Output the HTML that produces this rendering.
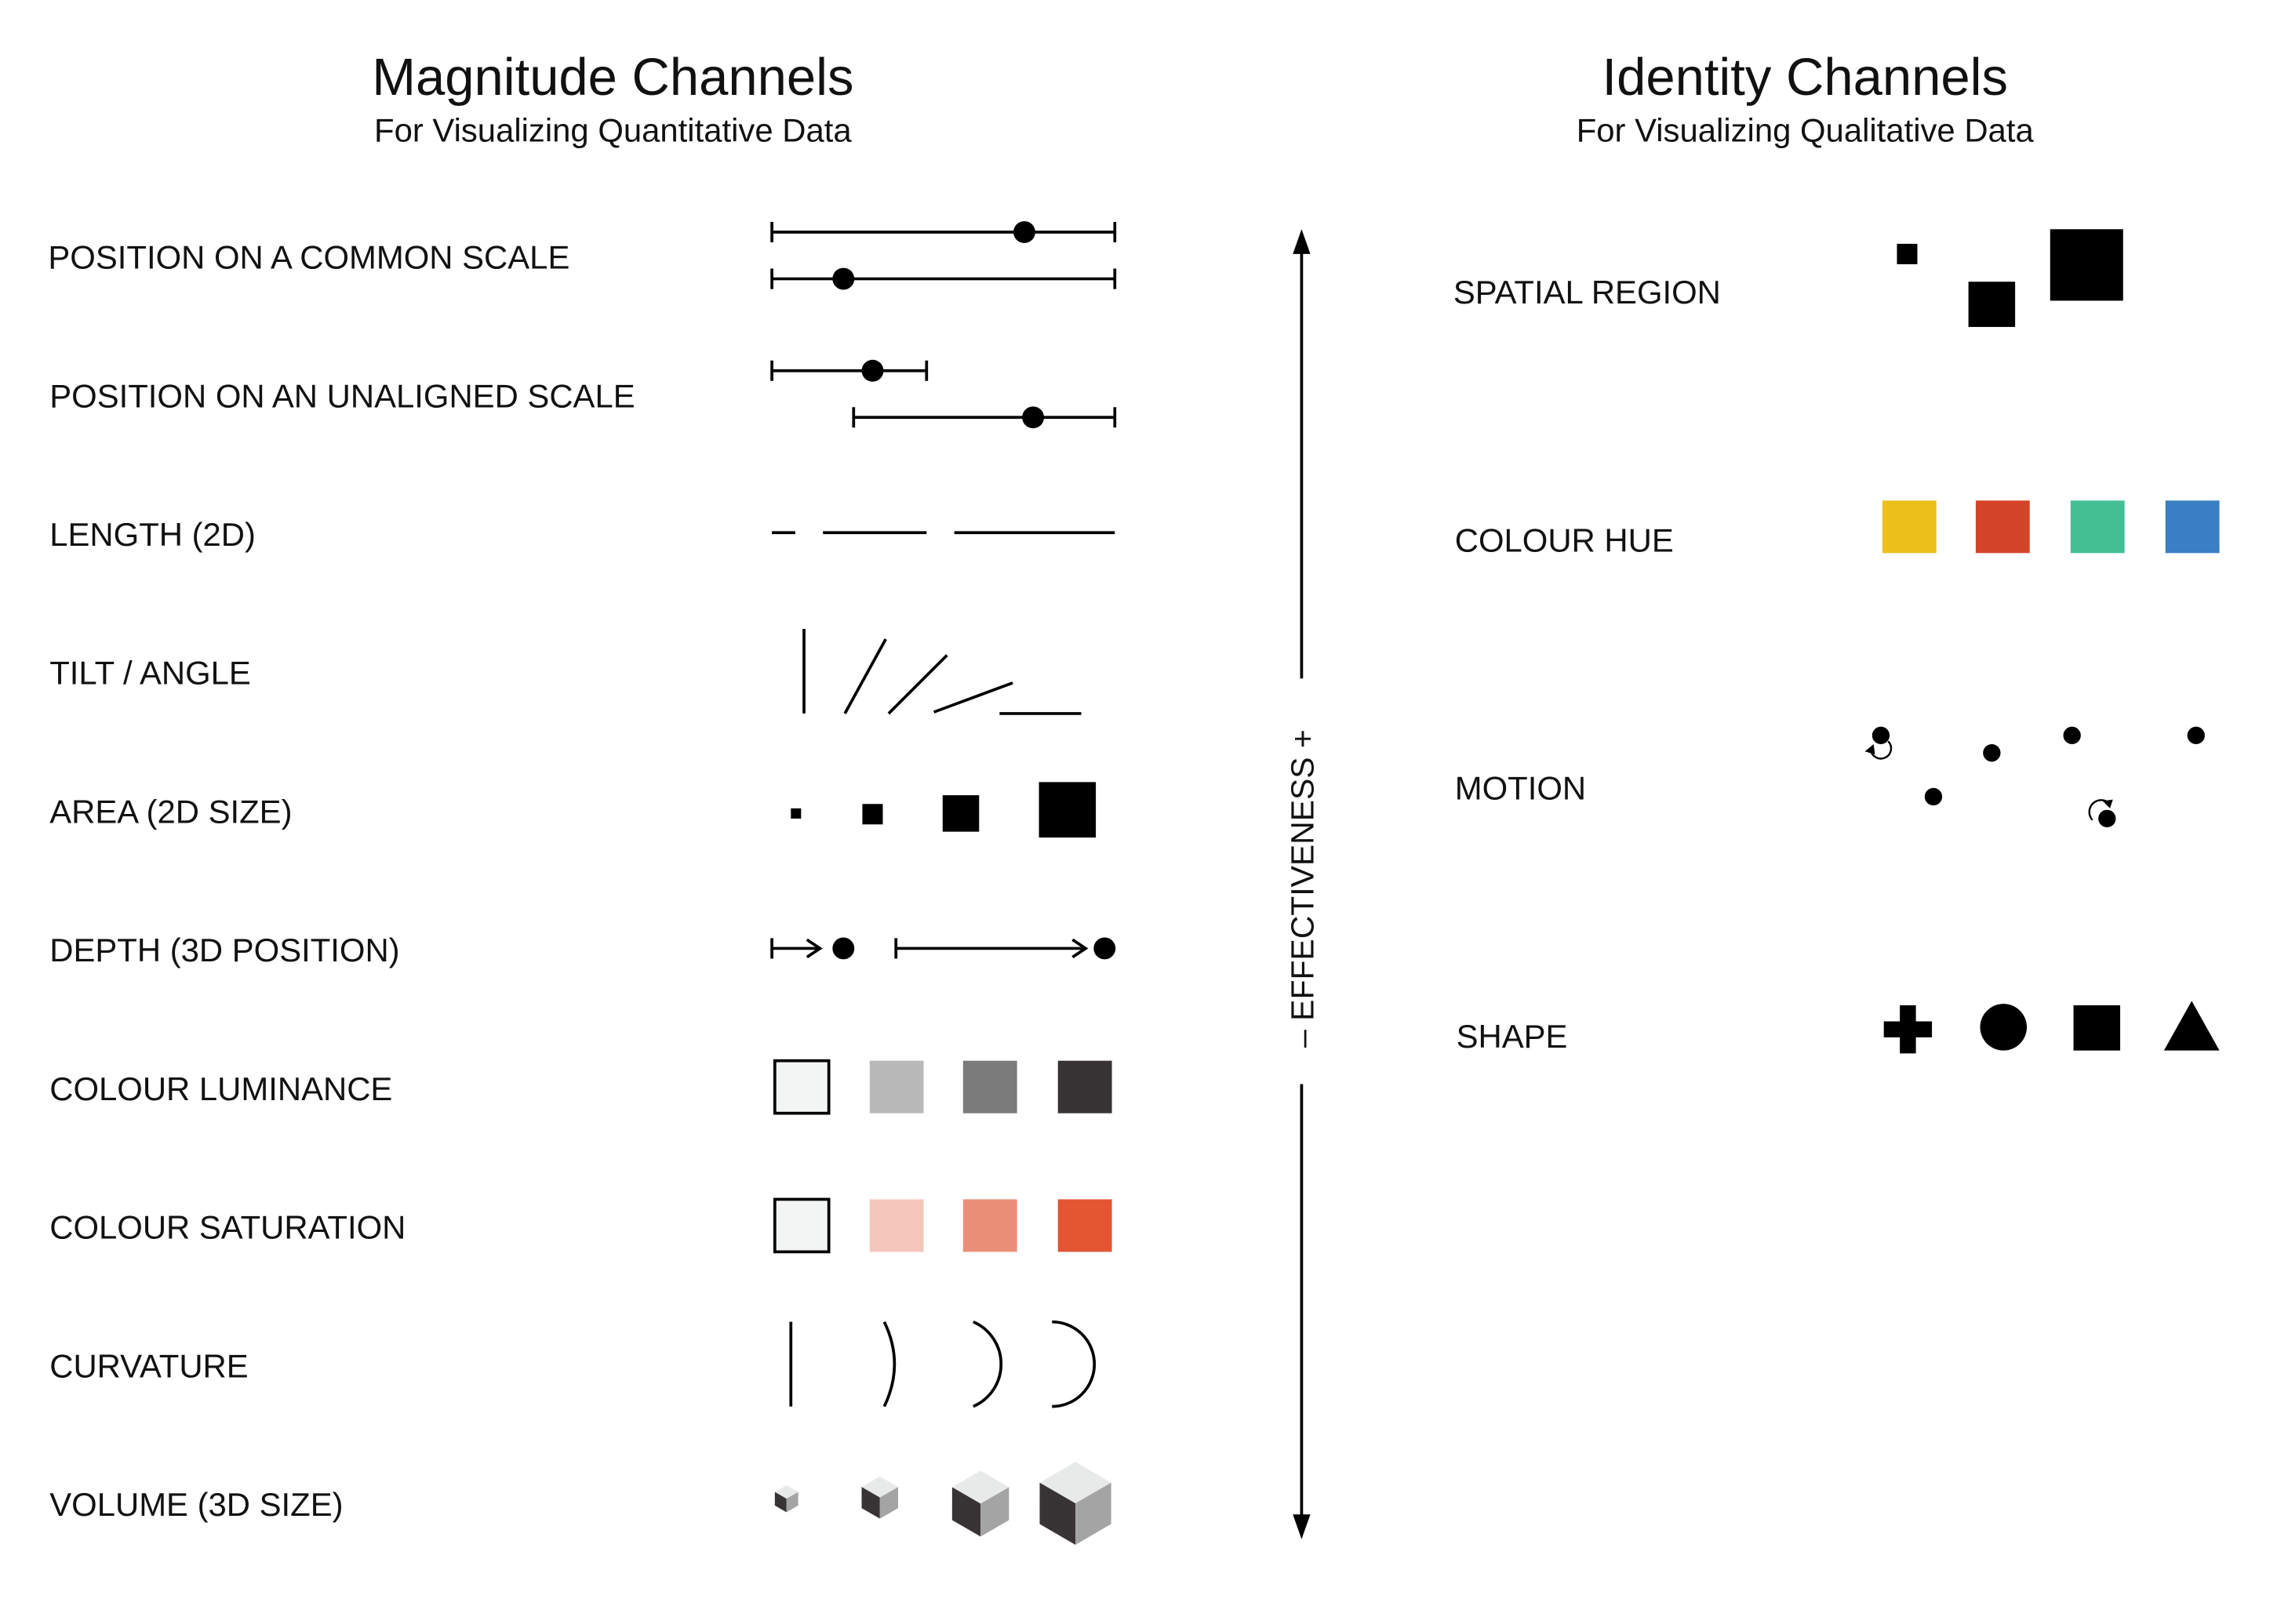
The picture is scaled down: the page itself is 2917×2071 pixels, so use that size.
<!DOCTYPE html>
<html><head><meta charset="utf-8"><style>
html,body{margin:0;padding:0;background:#fff;}
svg{display:block}
text{font-family:"Liberation Sans",sans-serif;fill:#111}
</style></head><body>
<svg width="2917" height="2071" viewBox="0 0 1568 1113" xmlns="http://www.w3.org/2000/svg">
<rect width="1568" height="1113" fill="#fff"/>
<text x="420" y="65" font-size="36" text-anchor="middle">Magnitude Channels</text>
<text x="420" y="97" font-size="22.5" text-anchor="middle">For Visualizing Quantitative Data</text>
<text x="1237" y="65" font-size="36" text-anchor="middle">Identity Channels</text>
<text x="1237" y="97" font-size="22.5" text-anchor="middle">For Visualizing Qualitative Data</text>
<g font-size="22.5">
<text x="33" y="184">POSITION ON A COMMON SCALE</text>
<text x="34" y="279">POSITION ON AN UNALIGNED SCALE</text>
<text x="34" y="374">LENGTH (2D)</text>
<text x="34" y="469">TILT / ANGLE</text>
<text x="34" y="564">AREA (2D SIZE)</text>
<text x="34" y="659">DEPTH (3D POSITION)</text>
<text x="34" y="754">COLOUR LUMINANCE</text>
<text x="34" y="849">COLOUR SATURATION</text>
<text x="34" y="944">CURVATURE</text>
<text x="34" y="1039">VOLUME (3D SIZE)</text>
<text x="996" y="208">SPATIAL REGION</text>
<text x="997" y="378">COLOUR HUE</text>
<text x="997" y="548">MOTION</text>
<text x="998" y="718">SHAPE</text>
</g>
<g stroke="#000" stroke-width="2" fill="none">
<path d="M529 159H764M529 152V166M764 152V166"/>
<path d="M529 191H764M529 184V198M764 184V198"/>
<path d="M529 254H635M529 247V261M635 247V261"/>
<path d="M585 286H764M585 279V293M764 279V293"/>
<path d="M529 365H545M564 365H635M654 365H764"/>
<path d="M551 431V489M579 489L607 438M609 489L649 449M640 488L694 468M685 489H741"/>
<path d="M529 643V657M529 650H562M553 644L562 650L553 656"/>
<path d="M614 643V657M614 650H744M735 644L744 650L735 656"/>
<path d="M542 906V964"/>
<path d="M606 906Q620 935 606 964"/>
<path d="M667 906A31.6 31.6 0 0 1 667 964"/>
<path d="M721 906A29 29 0 0 1 721 964"/>
<path d="M892 168V465M892 743V1044"/>
</g>
<path d="M886 174L892 157L898 174Z M886 1038L892 1055L898 1038Z" fill="#000"/>
<text transform="translate(900,718) rotate(-90)" font-size="22">–  EFFECTIVENESS  +</text>
<g fill="#000">
<circle cx="702" cy="159" r="7.5"/><circle cx="578" cy="191" r="7.5"/>
<circle cx="598" cy="254" r="7.5"/><circle cx="708" cy="286" r="7.5"/>
<circle cx="578" cy="650" r="7.5"/><circle cx="757" cy="650" r="7.5"/>
<rect x="542" y="554" width="7" height="7"/><rect x="591" y="551" width="14" height="14"/>
<rect x="646" y="545" width="25" height="25"/><rect x="712" y="536" width="39" height="38"/>
<rect x="1300" y="167" width="14" height="14"/><rect x="1349" y="193" width="32" height="31"/>
<rect x="1405" y="157" width="50" height="49"/>
<circle cx="1289" cy="504" r="6"/><circle cx="1325" cy="546" r="6"/><circle cx="1365" cy="516" r="6"/>
<circle cx="1420" cy="504" r="6"/><circle cx="1505" cy="504" r="6"/><circle cx="1444" cy="561" r="6"/>
<path d="M1302 689h11v11h11v11h-11v11h-11v-11h-11v-11h11z"/>
<circle cx="1373" cy="704" r="16"/>
<rect x="1421" y="689" width="32" height="31"/>
<path d="M1502 686L1521 720H1483z"/>
</g>
<g fill="none" stroke="#000" stroke-width="1.3">
<path d="M1294 508A7 7 0 1 1 1282 513"/>
<path d="M1434 562A7 7 0 1 1 1446 551"/>
</g>
<path d="M1278 515l6-5 1 7z M1448 548l-7 1 5 5z" fill="#000"/>
<rect x="531" y="727" width="37" height="36" fill="#f3f5f4" stroke="#000" stroke-width="2"/>
<rect x="596" y="727" width="37" height="36" fill="#b9b9b9"/>
<rect x="660" y="727" width="37" height="36" fill="#7b7b7b"/>
<rect x="725" y="727" width="37" height="36" fill="#383435"/>
<rect x="531" y="822" width="37" height="36" fill="#f3f5f4" stroke="#000" stroke-width="2"/>
<rect x="596" y="822" width="37" height="36" fill="#f4c6bb"/>
<rect x="660" y="822" width="37" height="36" fill="#eb8e77"/>
<rect x="725" y="822" width="37" height="36" fill="#e45532"/>
<rect x="1290" y="343" width="37" height="36" fill="#ecbf1b"/>
<rect x="1354" y="343" width="37" height="36" fill="#d4442a"/>
<rect x="1419" y="343" width="37" height="36" fill="#44bf93"/>
<rect x="1484" y="343" width="37" height="36" fill="#3a7ec4"/>
<g>
<path d="M539 1018l8 4.6-8 4.6-8-4.6z" fill="#e8eaea"/><path d="M531 1022.6l8 4.6v9.3l-8-4.6z" fill="#383435"/><path d="M547 1022.6l-8 4.6v9.3l8-4.6z" fill="#a5a4a4"/>
<path d="M603 1012l12.5 7.2-12.5 7.2-12.5-7.2z" fill="#e8eaea"/><path d="M590.5 1019.2l12.5 7.2v14.5l-12.5-7.2z" fill="#383435"/><path d="M615.5 1019.2l-12.5 7.2v14.5l12.5-7.2z" fill="#a5a4a4"/>
<path d="M672 1008l19.5 11.3-19.5 11.3-19.5-11.3z" fill="#e8eaea"/><path d="M652.5 1019.3l19.5 11.3v22.6l-19.5-11.3z" fill="#383435"/><path d="M691.5 1019.3l-19.5 11.3v22.6l19.5-11.3z" fill="#a5a4a4"/>
<path d="M737 1002l24.5 14.2-24.5 14.2-24.5-14.2z" fill="#e8eaea"/><path d="M712.5 1016.2l24.5 14.2v28.4l-24.5-14.2z" fill="#383435"/><path d="M761.5 1016.2l-24.5 14.2v28.4l24.5-14.2z" fill="#a5a4a4"/>
</g>
</svg>
</body></html>
